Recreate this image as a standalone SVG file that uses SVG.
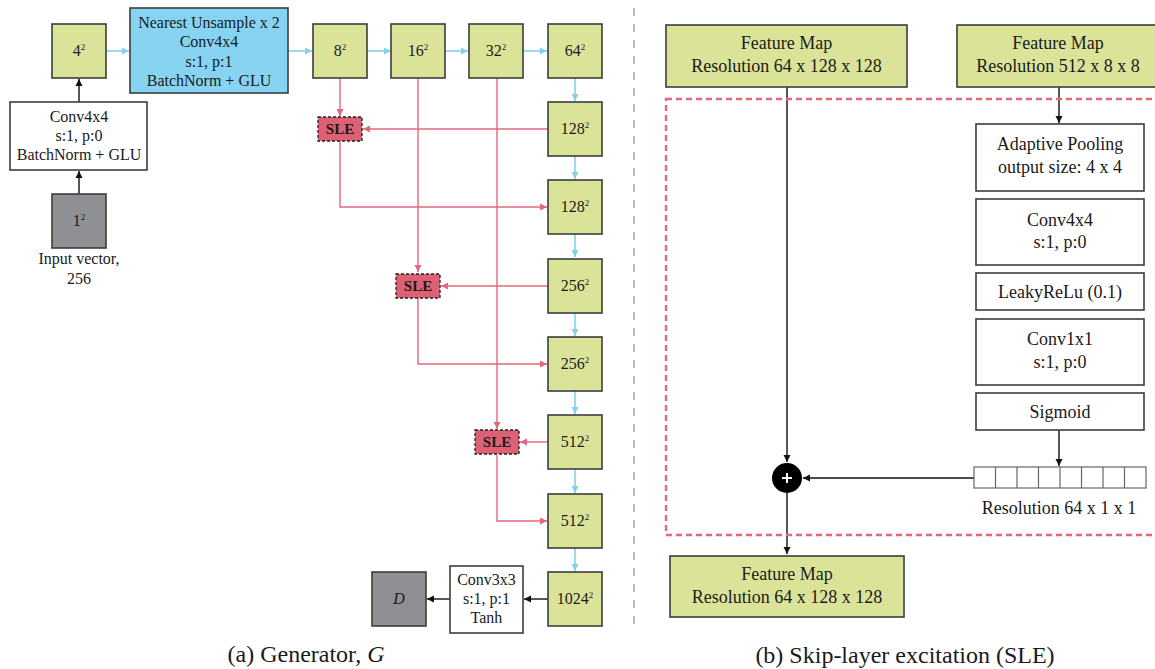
<svg xmlns="http://www.w3.org/2000/svg" width="1155" height="669" viewBox="0 0 1155 669" font-family="'Liberation Serif', serif">
<defs>
<marker id="ab" markerWidth="8" markerHeight="8" refX="7" refY="4" orient="auto" markerUnits="userSpaceOnUse"><path d="M0,0.5 L7,4 L0,7.5 Z" fill="#111"/></marker>
<marker id="ap" markerWidth="8" markerHeight="8" refX="7" refY="4" orient="auto" markerUnits="userSpaceOnUse"><path d="M0,0.5 L7,4 L0,7.5 Z" fill="#e4677c"/></marker>
<marker id="ac" markerWidth="8" markerHeight="8" refX="7" refY="4" orient="auto" markerUnits="userSpaceOnUse"><path d="M0,0.5 L7,4 L0,7.5 Z" fill="#86d0ef"/></marker>
</defs>
<style>
text{font-family:'Liberation Serif',serif;fill:#1a1a1a;text-anchor:middle}
.g{fill:#dbe398;stroke:#3c3c3c;stroke-width:1.6}
.w{fill:#ffffff;stroke:#3c3c3c;stroke-width:1.6}
.gr{fill:#8f9094;stroke:#3c3c3c;stroke-width:1.6}
.bl{fill:#86d4f1;stroke:#3c3c3c;stroke-width:1.6}
.sle{fill:#dd6175;stroke:#222;stroke-width:1.3;stroke-dasharray:3,2}
.sl{font-weight:bold;font-size:15px}
.t15{font-size:16px}
.t16{font-size:16px}
.t17{font-size:18px}
.cap{font-size:24px}
.sup{font-size:9px}
.lb{stroke:#111;stroke-width:1.4;fill:none}
.lp{stroke:#e4677c;stroke-width:1.4;fill:none}
.lc{stroke:#86d0ef;stroke-width:1.6;fill:none}
</style>

<line x1="634" y1="8" x2="634" y2="628" stroke="#bdbdbd" stroke-width="2" stroke-dasharray="8,8"/>

<g id="connectors">
<line class="lb" x1="79" y1="194" x2="79" y2="171" marker-end="url(#ab)"/>
<line class="lb" x1="79" y1="102" x2="79" y2="79" marker-end="url(#ab)"/>
<line class="lc" x1="106" y1="51" x2="129" y2="51" marker-end="url(#ac)"/>
<line class="lc" x1="288" y1="51" x2="312" y2="51" marker-end="url(#ac)"/>
<line class="lc" x1="367" y1="51" x2="391" y2="51" marker-end="url(#ac)"/>
<line class="lc" x1="445" y1="51" x2="468" y2="51" marker-end="url(#ac)"/>
<line class="lc" x1="523" y1="51" x2="547" y2="51" marker-end="url(#ac)"/>
<line class="lc" x1="575" y1="78" x2="575" y2="101" marker-end="url(#ac)"/>
<line class="lc" x1="575" y1="156" x2="575" y2="179" marker-end="url(#ac)"/>
<line class="lc" x1="575" y1="234" x2="575" y2="257" marker-end="url(#ac)"/>
<line class="lc" x1="575" y1="313" x2="575" y2="336" marker-end="url(#ac)"/>
<line class="lc" x1="575" y1="391" x2="575" y2="414" marker-end="url(#ac)"/>
<line class="lc" x1="575" y1="469" x2="575" y2="493" marker-end="url(#ac)"/>
<line class="lc" x1="575" y1="548" x2="575" y2="571" marker-end="url(#ac)"/>
<line class="lp" x1="340" y1="78" x2="340" y2="116" marker-end="url(#ap)"/>
<line class="lp" x1="548" y1="129" x2="363" y2="129" marker-end="url(#ap)"/>
<polyline class="lp" points="340,141 340,207 547,207" marker-end="url(#ap)"/>
<line class="lp" x1="418" y1="78" x2="418" y2="272" marker-end="url(#ap)"/>
<line class="lp" x1="548" y1="286" x2="441" y2="286" marker-end="url(#ap)"/>
<polyline class="lp" points="418,298 418,364 547,364" marker-end="url(#ap)"/>
<line class="lp" x1="497" y1="78" x2="497" y2="429" marker-end="url(#ap)"/>
<line class="lp" x1="548" y1="442" x2="520" y2="442" marker-end="url(#ap)"/>
<polyline class="lp" points="497,455 497,521 547,521" marker-end="url(#ap)"/>
<line class="lb" x1="548" y1="599" x2="524" y2="599" marker-end="url(#ab)"/>
<line class="lb" x1="450" y1="599" x2="427" y2="599" marker-end="url(#ab)"/>
<line class="lb" x1="787" y1="87" x2="787" y2="462" marker-end="url(#ab)"/>
<line class="lb" x1="1059" y1="87" x2="1059" y2="123" marker-end="url(#ab)"/>
<line class="lb" x1="1059" y1="430" x2="1059" y2="466" marker-end="url(#ab)"/>
<line class="lb" x1="974" y1="478" x2="803" y2="478" marker-end="url(#ab)"/>
<line class="lb" x1="787" y1="493" x2="787" y2="554" marker-end="url(#ab)"/>
</g>

<g id="n4"><rect class="g" x="52" y="24" width="54" height="54"/><text class="t15" x="79" y="56">4<tspan class="sup" dy="-6">2</tspan></text></g>
<g id="nup"><rect class="bl" x="130" y="8" width="158" height="85"/>
<text class="t16" x="209" y="28">Nearest Unsample x 2</text>
<text class="t16" x="209" y="47">Conv4x4</text>
<text class="t16" x="209" y="67">s:1, p:1</text>
<text class="t16" x="209" y="86">BatchNorm + GLU</text></g>
<g id="nconv0"><rect class="w" x="10" y="102" width="137" height="68"/>
<text class="t16" x="79" y="122">Conv4x4</text>
<text class="t16" x="79" y="141">s:1, p:0</text>
<text class="t16" x="79" y="160">BatchNorm + GLU</text></g>
<g id="nin"><rect class="gr" x="52" y="194" width="54" height="54"/><text class="t15" x="79" y="226">1<tspan class="sup" dy="-6">2</tspan></text>
<text class="t16" x="79" y="264">Input vector,</text>
<text class="t16" x="79" y="284">256</text></g>

<g id="n8"><rect class="g" x="313" y="24" width="54" height="54"/><text class="t15" x="340" y="56">8<tspan class="sup" dy="-6">2</tspan></text></g>
<g id="n16"><rect class="g" x="391" y="24" width="54" height="54"/><text class="t15" x="418" y="56">16<tspan class="sup" dy="-6">2</tspan></text></g>
<g id="n32"><rect class="g" x="469" y="24" width="54" height="54"/><text class="t15" x="496" y="56">32<tspan class="sup" dy="-6">2</tspan></text></g>
<g id="n64"><rect class="g" x="548" y="24" width="54" height="54"/><text class="t15" x="575" y="56">64<tspan class="sup" dy="-6">2</tspan></text></g>
<g id="n128a"><rect class="g" x="548" y="102" width="54" height="54"/><text class="t15" x="575" y="134">128<tspan class="sup" dy="-6">2</tspan></text></g>
<g id="n128b"><rect class="g" x="548" y="180" width="54" height="54"/><text class="t15" x="575" y="212">128<tspan class="sup" dy="-6">2</tspan></text></g>
<g id="n256a"><rect class="g" x="548" y="259" width="54" height="54"/><text class="t15" x="575" y="291">256<tspan class="sup" dy="-6">2</tspan></text></g>
<g id="n256b"><rect class="g" x="548" y="337" width="54" height="54"/><text class="t15" x="575" y="369">256<tspan class="sup" dy="-6">2</tspan></text></g>
<g id="n512a"><rect class="g" x="548" y="415" width="54" height="54"/><text class="t15" x="575" y="447">512<tspan class="sup" dy="-6">2</tspan></text></g>
<g id="n512b"><rect class="g" x="548" y="494" width="54" height="54"/><text class="t15" x="575" y="526">512<tspan class="sup" dy="-6">2</tspan></text></g>
<g id="n1024"><rect class="g" x="548" y="572" width="54" height="54"/><text class="t15" x="575" y="604">1024<tspan class="sup" dy="-6">2</tspan></text></g>
<g id="nconv3"><rect class="w" x="450" y="566" width="73" height="67"/>
<text class="t16" x="486.5" y="585">Conv3x3</text>
<text class="t16" x="486.5" y="604">s:1, p:1</text>
<text class="t16" x="486.5" y="623">Tanh</text></g>
<g id="nD"><rect class="gr" x="372" y="572" width="54" height="54"/><text class="t15" x="399" y="604" font-style="italic">D</text></g>

<g id="sle1"><rect class="sle" x="318" y="117" width="44" height="24"/><text class="sl" x="340" y="134">SLE</text></g>
<g id="sle2"><rect class="sle" x="396" y="274" width="44" height="24"/><text class="sl" x="418" y="291">SLE</text></g>
<g id="sle3"><rect class="sle" x="475" y="430" width="44" height="24"/><text class="sl" x="497" y="447">SLE</text></g>

<text class="cap" x="306" y="662">(a) Generator, <tspan font-style="italic">G</tspan></text>

<rect x="666" y="99" width="500" height="436" fill="none" stroke="#e4677c" stroke-width="2.4" stroke-dasharray="6,4"/>
<g id="fm1"><rect class="g" x="666" y="25" width="241" height="62"/>
<text class="t17" x="786.5" y="49">Feature Map</text>
<text class="t17" x="786.5" y="72">Resolution 64 x 128 x 128</text></g>
<g id="fm2"><rect class="g" x="957" y="25" width="205" height="62"/>
<text class="t17" x="1058" y="49">Feature Map</text>
<text class="t17" x="1058" y="72">Resolution 512 x 8 x 8</text></g>
<g id="pool"><rect class="w" x="976" y="124" width="168" height="67"/>
<text class="t17" x="1060" y="150">Adaptive Pooling</text>
<text class="t17" x="1060" y="173">output size: 4 x 4</text></g>
<g id="conv44"><rect class="w" x="976" y="199" width="168" height="66"/>
<text class="t17" x="1060" y="226">Conv4x4</text>
<text class="t17" x="1060" y="248">s:1, p:0</text></g>
<g id="leaky"><rect class="w" x="976" y="273" width="168" height="37"/>
<text class="t17" x="1060" y="298">LeakyReLu (0.1)</text></g>
<g id="conv11"><rect class="w" x="976" y="319" width="168" height="66"/>
<text class="t17" x="1060" y="345">Conv1x1</text>
<text class="t17" x="1060" y="368">s:1, p:0</text></g>
<g id="sig"><rect class="w" x="976" y="393" width="168" height="37"/>
<text class="t17" x="1060" y="418">Sigmoid</text></g>
<g id="strip" fill="#fff" stroke="#666" stroke-width="1.2">
<rect x="974" y="467" width="172" height="21"/>
<line x1="995.5" y1="467" x2="995.5" y2="488"/>
<line x1="1017" y1="467" x2="1017" y2="488"/>
<line x1="1038.5" y1="467" x2="1038.5" y2="488"/>
<line x1="1060" y1="467" x2="1060" y2="488"/>
<line x1="1081.5" y1="467" x2="1081.5" y2="488"/>
<line x1="1103" y1="467" x2="1103" y2="488"/>
<line x1="1124.5" y1="467" x2="1124.5" y2="488"/>
<text class="t17" x="1059" y="514" stroke="none">Resolution 64 x 1 x 1</text></g>
<g id="plus"><circle cx="787" cy="478" r="15" fill="#000"/>
<path d="M782,478 H792 M787,473 V483" stroke="#fff" stroke-width="2"/></g>
<g id="fm3"><rect class="g" x="670" y="556" width="234" height="61"/>
<text class="t17" x="787" y="580">Feature Map</text>
<text class="t17" x="787" y="603">Resolution 64 x 128 x 128</text></g>
<text class="cap" x="905" y="663">(b) Skip-layer excitation (SLE)</text>
</svg>
